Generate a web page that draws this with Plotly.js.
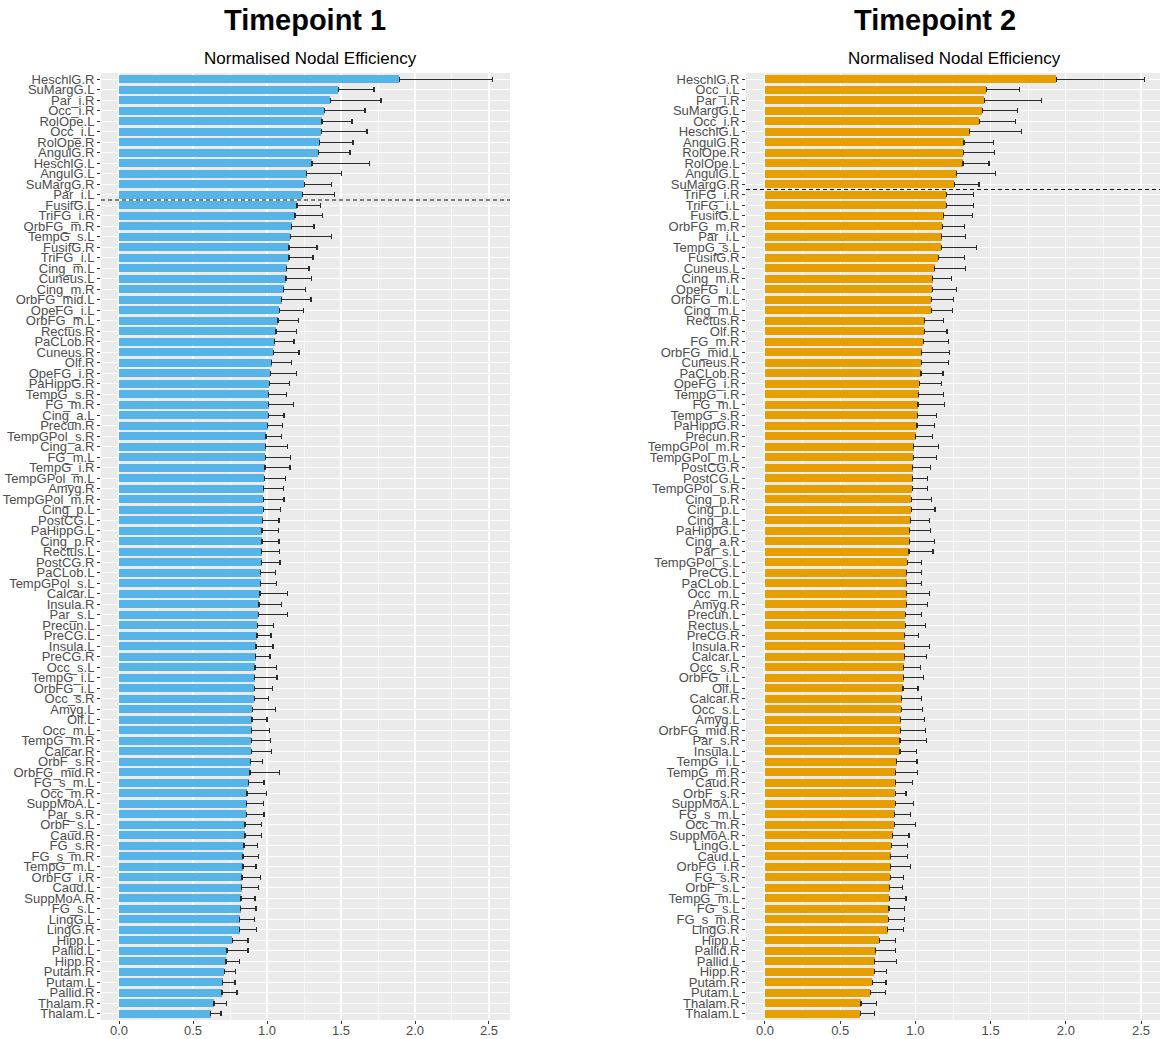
<!DOCTYPE html>
<html>
<head>
<meta charset="utf-8">
<script src="https://cdn.plot.ly/plotly-3.0.1.min.js"></script>
<style>
  html, body { margin: 0; padding: 0; background: #ffffff; }
  #chart { width: 1160px; height: 1039px; }
</style>
</head>
<body>
<div id="chart"></div>
<script>
// Normalised nodal efficiency per AAL region, sorted descending, with upper SD
const regions1 = ["HeschlG.R","SuMargG.L","Par_i.R","Occ_i.R","RolOpe.L","Occ_i.L","RolOpe.R","AngulG.R","HeschlG.L","AngulG.L","SuMargG.R","Par_i.L",
  "FusifG.L","TriFG_i.R","OrbFG_m.R","TempG_s.L","FusifG.R","TriFG_i.L","Cing_m.L","Cuneus.L","Cing_m.R","OrbFG_mid.L","OpeFG_i.L","OrbFG_m.L",
  "Rectus.R","PaCLob.R","Cuneus.R","Olf.R","OpeFG_i.R","PaHippG.R","TempG_s.R","FG_m.R","Cing_a.L","Precun.R","TempGPol_s.R","Cing_a.R",
  "FG_m.L","TempG_i.R","TempGPol_m.L","Amyg.R","TempGPol_m.R","Cing_p.L","PostCG.L","PaHippG.L","Cing_p.R","Rectus.L","PostCG.R","PaCLob.L",
  "TempGPol_s.L","Calcar.L","Insula.R","Par_s.L","Precun.L","PreCG.L","Insula.L","PreCG.R","Occ_s.L","TempG_i.L","OrbFG_i.L","Occ_s.R",
  "Amyg.L","Olf.L","Occ_m.L","TempG_m.R","Calcar.R","OrbF_s.R","OrbFG_mid.R","FG_s_m.L","Occ_m.R","SuppMoA.L","Par_s.R","OrbF_s.L",
  "Caud.R","FG_s.R","FG_s_m.R","TempG_m.L","OrbFG_i.R","Caud.L","SuppMoA.R","FG_s.L","LingG.L","LingG.R","Hipp.L","Pallid.L",
  "Hipp.R","Putam.R","Putam.L","Pallid.R","Thalam.R","Thalam.L"];
const eff1 = [1.894,1.482,1.428,1.387,1.372,1.367,1.356,1.347,1.304,1.268,1.252,1.239,
  1.203,1.189,1.167,1.158,1.149,1.149,1.133,1.128,1.113,1.099,1.083,1.074,
  1.061,1.052,1.043,1.032,1.023,1.016,1.011,1.011,1.009,1.005,0.993,0.991,
  0.989,0.986,0.982,0.977,0.975,0.975,0.971,0.966,0.966,0.964,0.964,0.957,
  0.957,0.953,0.946,0.941,0.935,0.932,0.926,0.923,0.919,0.917,0.914,0.914,
  0.901,0.899,0.896,0.894,0.894,0.890,0.885,0.876,0.865,0.863,0.860,0.851,
  0.851,0.845,0.838,0.838,0.831,0.829,0.824,0.822,0.815,0.815,0.766,0.730,
  0.723,0.712,0.700,0.696,0.642,0.619];
const sd1 = [0.629,0.241,0.342,0.275,0.202,0.309,0.225,0.214,0.387,0.234,0.183,0.218,
  0.157,0.185,0.151,0.277,0.189,0.162,0.151,0.172,0.148,0.198,0.162,0.138,
  0.137,0.130,0.173,0.135,0.175,0.135,0.120,0.167,0.106,0.099,0.106,0.146,
  0.171,0.169,0.144,0.136,0.140,0.117,0.110,0.113,0.115,0.119,0.124,0.099,
  0.106,0.184,0.153,0.196,0.108,0.095,0.115,0.097,0.146,0.151,0.122,0.095,
  0.155,0.101,0.120,0.131,0.138,0.081,0.198,0.104,0.130,0.114,0.120,0.111,
  0.111,0.090,0.106,0.088,0.126,0.115,0.095,0.104,0.102,0.115,0.106,0.142,
  0.092,0.076,0.084,0.101,0.085,0.070];
const hubCount1 = 12;

const regions2 = ["HeschlG.R","Occ_i.L","Par_i.R","SuMargG.L","Occ_i.R","HeschlG.L","AngulG.R","RolOpe.R","RolOpe.L","AngulG.L","SuMargG.R",
  "TriFG_i.R","TriFG_i.L","FusifG.L","OrbFG_m.R","Par_i.L","TempG_s.L","FusifG.R","Cuneus.L","Cing_m.R","OpeFG_i.L","OrbFG_m.L","Cing_m.L",
  "Rectus.R","Olf.R","FG_m.R","OrbFG_mid.L","Cuneus.R","PaCLob.R","OpeFG_i.R","TempG_i.R","FG_m.L","TempG_s.R","PaHippG.R","Precun.R",
  "TempGPol_m.R","TempGPol_m.L","PostCG.R","PostCG.L","TempGPol_s.R","Cing_p.R","Cing_p.L","Cing_a.L","PaHippG.L","Cing_a.R","Par_s.L",
  "TempGPol_s.L","PreCG.L","PaCLob.L","Occ_m.L","Amyg.R","Precun.L","Rectus.L","PreCG.R","Insula.R","Calcar.L","Occ_s.R","OrbFG_i.L",
  "Olf.L","Calcar.R","Occ_s.L","Amyg.L","OrbFG_mid.R","Par_s.R","Insula.L","TempG_i.L","TempG_m.R","Caud.R","OrbF_s.R","SuppMoA.L",
  "FG_s_m.L","Occ_m.R","SuppMoA.R","LingG.L","Caud.L","OrbFG_i.R","FG_s.R","OrbF_s.L","TempG_m.L","FG_s.L","FG_s_m.R","LingG.R",
  "Hipp.L","Pallid.R","Pallid.L","Hipp.R","Putam.R","Putam.L","Thalam.R","Thalam.L"];
const eff2 = [1.936,1.472,1.458,1.445,1.425,1.361,1.323,1.319,1.316,1.274,1.259,
  1.205,1.205,1.188,1.179,1.174,1.172,1.152,1.128,1.114,1.112,1.105,1.105,
  1.061,1.059,1.052,1.043,1.039,1.037,1.026,1.021,1.017,1.014,1.010,1.003,
  0.990,0.986,0.983,0.981,0.979,0.974,0.974,0.970,0.963,0.963,0.957,
  0.946,0.943,0.943,0.941,0.941,0.932,0.932,0.930,0.930,0.930,0.923,0.921,
  0.917,0.910,0.906,0.903,0.901,0.897,0.897,0.877,0.870,0.868,0.866,0.866,
  0.863,0.859,0.848,0.839,0.837,0.835,0.832,0.828,0.826,0.824,0.819,0.815,
  0.761,0.735,0.730,0.728,0.713,0.699,0.639,0.633];
const sd2 = [0.588,0.222,0.378,0.235,0.242,0.344,0.198,0.206,0.173,0.260,0.164,
  0.180,0.182,0.193,0.148,0.158,0.233,0.173,0.206,0.127,0.160,0.149,0.140,
  0.127,0.151,0.169,0.185,0.182,0.146,0.148,0.164,0.175,0.125,0.118,0.111,
  0.162,0.153,0.116,0.100,0.102,0.134,0.156,0.124,0.136,0.162,0.160,
  0.093,0.096,0.100,0.153,0.140,0.111,0.133,0.091,0.162,0.144,0.111,0.133,
  0.100,0.133,0.142,0.160,0.164,0.175,0.111,0.133,0.142,0.115,0.071,0.122,
  0.105,0.140,0.109,0.107,0.113,0.131,0.089,0.084,0.111,0.106,0.109,0.108,
  0.105,0.133,0.145,0.078,0.091,0.102,0.100,0.095];
const hubCount2 = 11;

const W = 1160, H = 1039;
const px = v => v / W;
const py = v => 1 - v / H;

const tickFont = { family: "Liberation Sans, Arial, sans-serif", size: 13, color: "#4D4D4D" };

function barTrace(names, vals, sds, color, xa, ya) {
  return {
    type: "bar", orientation: "h",
    x: vals, y: names, xaxis: xa, yaxis: ya,
    width: 0.78,
    marker: { color: color, line: { width: 0 } },
    error_x: {
      type: "data", symmetric: false, array: sds, arrayminus: sds.map(() => 0),
      color: "#2b2b2b", thickness: 1.2, width: 2.5
    },
    hoverinfo: "x+y", showlegend: false
  };
}

function xAxis(domain, range, anchor) {
  return {
    domain: domain, range: range, anchor: anchor,
    tickvals: [0, 0.5, 1, 1.5, 2, 2.5], ticktext: ["0.0", "0.5", "1.0", "1.5", "2.0", "2.5"],
    ticks: "outside", ticklen: 3, tickcolor: "#333333", tickwidth: 1,
    tickfont: tickFont, ticklabelstandoff: -5,
    showgrid: true, gridcolor: "#FFFFFF", gridwidth: 1.2,
    minor: { tickvals: [0.25, 0.75, 1.25, 1.75, 2.25], showgrid: true, gridcolor: "#FFFFFF", gridwidth: 0.6 },
    zeroline: false, showline: false, fixedrange: true
  };
}

function yAxis(domain, names, anchor) {
  return {
    domain: domain, anchor: anchor, type: "category",
    categoryorder: "array", categoryarray: names,
    range: [names.length - 0.4, -0.6],
    tickmode: "array", tickvals: names, ticktext: names,
    ticks: "outside", ticklen: 3, tickcolor: "#333333", tickwidth: 1,
    tickfont: tickFont,
    showgrid: true, gridcolor: "#FFFFFF", gridwidth: 1.2,
    zeroline: false, showline: false, fixedrange: true
  };
}

const yDom = [py(1020), py(73)];

const data = [
  barTrace(regions1, eff1, sd1, "#56B4E9", "x", "y"),
  barTrace(regions2, eff2, sd2, "#E69F00", "x2", "y2")
];

const hubLine = { color: "#111111", width: 1.1, dash: "4px,3px" };

const layout = {
  width: W, height: H,
  margin: { l: 0, r: 0, t: 0, b: 0, pad: 0 },
  paper_bgcolor: "#FFFFFF",
  plot_bgcolor: "#EBEBEB",
  bargap: 0,
  xaxis: xAxis([px(101), px(510)], [-0.122, 2.642], "y"),
  yaxis: yAxis(yDom, regions1, "x"),
  xaxis2: xAxis([px(746), 1], [-0.126, 2.626], "y2"),
  yaxis2: yAxis(yDom, regions2, "x2"),
  shapes: [
    { type: "line", xref: "x domain", yref: "y", x0: 0, x1: 1,
      y0: hubCount1 - 0.5, y1: hubCount1 - 0.5, line: hubLine },
    { type: "line", xref: "x2 domain", yref: "y2", x0: 0, x1: 1,
      y0: hubCount2 - 0.5, y1: hubCount2 - 0.5, line: hubLine }
  ],
  annotations: [
    { text: "<b>Timepoint 1</b>", xref: "paper", yref: "paper", x: px(305), y: py(20),
      xanchor: "center", yanchor: "middle", showarrow: false,
      font: { family: "Liberation Sans, Arial, sans-serif", size: 29, color: "#000000" } },
    { text: "Normalised Nodal Efficiency", xref: "paper", yref: "paper", x: px(310), y: py(58),
      xanchor: "center", yanchor: "middle", showarrow: false,
      font: { family: "Liberation Sans, Arial, sans-serif", size: 17, color: "#000000" } },
    { text: "<b>Timepoint 2</b>", xref: "paper", yref: "paper", x: px(935), y: py(20),
      xanchor: "center", yanchor: "middle", showarrow: false,
      font: { family: "Liberation Sans, Arial, sans-serif", size: 29, color: "#000000" } },
    { text: "Normalised Nodal Efficiency", xref: "paper", yref: "paper", x: px(954), y: py(58),
      xanchor: "center", yanchor: "middle", showarrow: false,
      font: { family: "Liberation Sans, Arial, sans-serif", size: 17, color: "#000000" } }
  ]
};

Plotly.newPlot("chart", data, layout, { displayModeBar: false, staticPlot: true });
</script>
</body>
</html>
